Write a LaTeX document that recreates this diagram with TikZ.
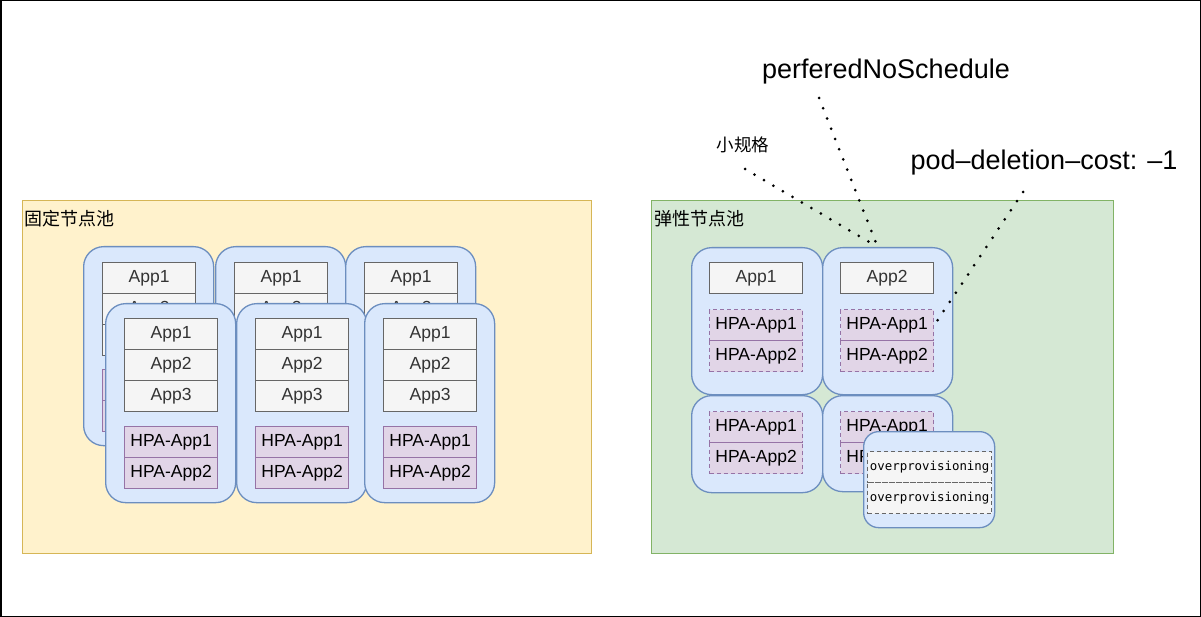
\documentclass[tikz,border=0pt]{standalone}
\usepackage{fontspec}
\setmainfont{Liberation Sans}
\newfontfamily\cjkfont{Noto Sans CJK SC}
\newfontfamily\spacefont{DejaVu Sans Mono}

\definecolor{fixedfill}{HTML}{FFF2CC}
\definecolor{fixedline}{HTML}{D6B656}
\definecolor{elasticfill}{HTML}{D5E8D4}
\definecolor{elasticline}{HTML}{82B366}
\definecolor{vmfill}{HTML}{DAE8FC}
\definecolor{vmline}{HTML}{6C8EBF}
\definecolor{appfill}{HTML}{F5F5F5}
\definecolor{appline}{HTML}{666666}
\definecolor{apptext}{HTML}{333333}
\definecolor{hpafill}{HTML}{E1D5E7}
\definecolor{hpaline}{HTML}{9673A6}

\tikzset{
	pool/.style={line width=1.3pt, anchor=north west, inner sep=0pt},
	poolname/.style={anchor=west, inner sep=0pt, font=\cjkfont\fontsize{18}{20}\selectfont},
	vm/.style={draw=vmline, fill=vmfill, line width=1.3pt, rounded corners=20pt, anchor=north west, minimum width=130pt, inner sep=0pt},
	app/.style={draw=appline, fill=appfill, text=apptext, line width=1.3pt, anchor=north west, minimum width=93pt, minimum height=31pt, inner sep=0pt, font=\fontsize{17.5}{20}\selectfont},
	hpa/.style={app, draw=hpaline, fill=hpafill, text=black},
	hpadash/.style={hpa, dash pattern=on 4pt off 3pt},
	spare/.style={app, minimum width=124pt, text=black, dash pattern=on 4pt off 3pt, font=\spacefont\fontsize{12.4}{14}\selectfont},
	tag/.style={inner sep=0pt, font=\fontsize{27}{30}\selectfont},
	dots/.style={line width=3pt, line cap=round, dash pattern=on 0pt off 11pt},
}

\begin{document}
\begin{tikzpicture}[x=1pt, y=-1pt]
	\useasboundingbox (0,0) rectangle (1201,617);
	\draw [line width=1.5pt] (0.75,0.75) rectangle (1200.25,616.25);

	% fixed pool
	\node [pool, draw=fixedline, fill=fixedfill, minimum width=569pt, minimum height=353pt] (poolFixed) at (22,200) {};
	\node [poolname] (poolFixedName) at (24,219) {固定节点池};
	\foreach \x [count=\i] in {83,215,345} {
		\node [vm, minimum height=199pt] (backVm\i) at (\x,246) {};
		\foreach \y/\t [count=\j] in {262/App1,293/App2,324/App3}
			\node [app] (backApp\i\j) at (\x+19,\y) {\t};
		\foreach \y/\t [count=\j] in {369/HPA-App1,400/HPA-App2}
			\node [hpa] (backHpa\i\j) at (\x+19,\y) {\t};
	}
	\foreach \x [count=\i] in {105,236,364} {
		\node [vm, minimum height=199pt] (frontVm\i) at (\x,303) {};
		\foreach \y/\t [count=\j] in {318/App1,349/App2,380/App3}
			\node [app] (frontApp\i\j) at (\x+19,\y) {\t};
		\foreach \y/\t [count=\j] in {426/HPA-App1,457/HPA-App2}
			\node [hpa] (frontHpa\i\j) at (\x+19,\y) {\t};
	}

	% elastic pool
	\node [pool, draw=elasticline, fill=elasticfill, minimum width=462pt, minimum height=353pt] (poolElastic) at (651,200) {};
	\node [poolname] (poolElasticName) at (654,219) {弹性节点池};
	\node [vm, minimum height=147pt, minimum width=131pt] (eVm1) at (691,247) {};
	\node [app] (eApp1) at (709,262) {App1};
	\node [hpadash] (eHpa11) at (709,309) {HPA-App1};
	\node [hpadash] (eHpa12) at (709,340) {HPA-App2};
	\node [vm, minimum height=147pt] (eVm2) at (822,247) {};
	\node [app] (eApp2) at (840,262) {App2};
	\node [hpadash] (eHpa21) at (840,309) {HPA-App1};
	\node [hpadash] (eHpa22) at (840,340) {HPA-App2};
	\node [vm, minimum height=97pt, minimum width=131pt] (eVm3) at (691,395) {};
	\node [hpadash] (eHpa31) at (709,411) {HPA-App1};
	\node [hpadash] (eHpa32) at (709,442) {HPA-App2};
	\node [vm, minimum height=96pt] (eVm4) at (822,395) {};
	\node [hpadash] (eHpa41) at (840,411) {HPA-App1};
	\node [hpadash] (eHpa42) at (840,442) {HPA-App2};
	\node [vm, rounded corners=15pt, minimum height=96pt, minimum width=131pt] (overVm) at (863,431) {};
	\node [spare] (spare1) at (867,451) {overprovisioning};
	\node [spare] (spare2) at (867,482) {overprovisioning};

	% labels
	\node [inner sep=0pt, font=\cjkfont\fontsize{17.5}{20}\selectfont] (lblSmall) at (743,145) {小规格};
	\node [tag] (lblSched) at (886,72) {perferedNoSchedule};
	\node [tag] (lblCost) at (1044,163) {pod--deletion--cost: --1};
	\coordinate (smallTail) at (745,169);
	\coordinate (schedTail) at (819,98);
	\coordinate (costTail) at (1023,192);
	\draw [dots] (smallTail) -- ([xshift=-10pt]eVm2.north);
	\draw [dots] (schedTail) -- ([xshift=-10pt]eVm2.north);
	\draw [dots] (costTail) -- (eHpa21.east);
\end{tikzpicture}
\end{document}
